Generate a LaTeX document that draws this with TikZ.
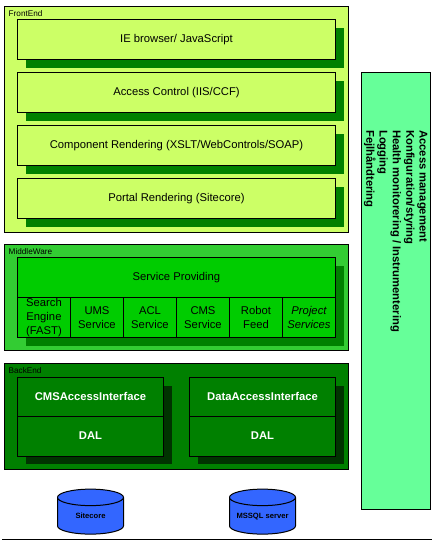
\documentclass[tikz,border=0pt]{standalone}
\usepackage{fontspec}
\setmainfont{Liberation Sans}
\usetikzlibrary{calc}
\usetikzlibrary{shapes.geometric}
\usetikzlibrary{shadows}
\definecolor{frontcol}{HTML}{CCFF66}
\definecolor{midcol}{HTML}{33CC33}
\definecolor{cellcol}{HTML}{00CC00}
\definecolor{backcol}{HTML}{008000}
\definecolor{darkcol}{HTML}{003300}
\definecolor{dbcol}{HTML}{3366FF}
\definecolor{sidecol}{HTML}{66FF99}
\newcommand{\dbtext}[1]{\makebox[30pt]{#1}}
\tikzset{
 layer/.style={draw=black,line width=1pt,anchor=north west,outer sep=0pt,inner sep=0pt},
 caption/.style={anchor=north west,inner sep=0pt,font=\fontsize{8.2}{9}\selectfont},
 cell/.style={draw=black,line width=1pt,anchor=north west,outer sep=0pt,inner sep=1pt,align=center,font=\fontsize{11.25}{14}\selectfont},
 longcell/.style={cell,minimum width=318pt,minimum height=40pt,text height=8.4pt,text depth=2pt,
  general shadow={shadow xshift=8pt,shadow yshift=-8pt,fill=#1}},
 svc/.style={cell,minimum width=53pt,minimum height=40pt,text width=51pt,
  general shadow={shadow xshift=8pt,shadow yshift=-8pt,fill=backcol}},
 iface/.style={cell,fill=backcol,text=white,minimum width=146pt,minimum height=39.5pt,text height=8pt,text depth=2.5pt,
  font=\fontsize{11.25}{14}\selectfont\bfseries,
  general shadow={shadow xshift=8pt,shadow yshift=-8pt,fill=darkcol}},
 db/.style={cylinder,shape border rotate=90,aspect=0.55,draw=black,line width=1pt,fill=dbcol,
  minimum width=66pt,minimum height=45pt,inner sep=0pt,outer sep=0pt,
  text height=6pt,text depth=2pt,font=\fontsize{7.6}{9}\selectfont\bfseries}
}
\begin{document}
\begin{tikzpicture}[x=1pt,y=-1pt]
\useasboundingbox (0,0) rectangle (435,546);
% FrontEnd
\node[layer,fill=frontcol,minimum width=344pt,minimum height=226pt] (FrontEnd) at (4.5,6) {};
\node[caption] (FrontEndCap) at (8.5,10) {FrontEnd};
\node[longcell=backcol,fill=frontcol] (Browser) at (17.5,19.5) {IE browser/ JavaScript};
\node[longcell=backcol,fill=frontcol] (Access) at (17.5,72.5) {Access Control (IIS/CCF)};
\node[longcell=backcol,fill=frontcol] (Component) at (17.5,125.5) {Component Rendering (XSLT/WebControls/SOAP)};
\node[longcell=backcol,fill=frontcol] (Portal) at (17.5,178.5) {Portal Rendering (Sitecore)};
% MiddleWare
\node[layer,fill=midcol,minimum width=344pt,minimum height=106pt] (MiddleWare) at (4.5,244.5) {};
\node[caption] (MiddleWareCap) at (8.5,248) {MiddleWare};
\node[longcell=backcol,fill=cellcol] (Providing) at (17.5,257.5) {Service Providing};
\node[svc,fill=cellcol] (Search) at (17.5,297.5) {Search\\Engine\\(FAST)};
\node[svc,fill=cellcol] (UMS) at (70.5,297.5) {UMS\\Service};
\node[svc,fill=cellcol] (ACL) at (123.5,297.5) {ACL\\Service};
\node[svc,fill=cellcol] (CMS) at (176.5,297.5) {CMS\\Service};
\node[svc,fill=cellcol] (Robot) at (229.5,297.5) {Robot\\Feed};
\node[svc,fill=cellcol,font=\fontsize{11.25}{14}\selectfont\itshape] (Project) at (282.5,297.5) {Project\\Services};
% BackEnd
\node[layer,fill=backcol,minimum width=344pt,minimum height=106pt] (BackEnd) at (4.5,363.5) {};
\node[caption] (BackEndCap) at (8.5,367) {BackEnd};
\node[iface] (CMSAccess) at (17.5,377.5) {CMSAccessInterface};
\node[iface] (CMSDal) at (17.5,416.5) {DAL};
\node[iface] (DataAccess) at (189.5,377.5) {DataAccessInterface};
\node[iface] (DataDal) at (189.5,416.5) {DAL};
% databases
\node[db] (Sitecore) at (90.5,516) {\dbtext{Sitecore}};
\node[db] (MSSQL) at (262.5,516) {\dbtext{MSSQL server}};
\coordinate (baseL) at (2,539.5);
\coordinate (baseR) at (432,539.5);
\draw[line width=1pt] (baseL) -- (baseR);
% side panel
\node[layer,fill=sidecol,minimum width=69pt,minimum height=437pt] (Side) at (361.5,72.5) {};
\node[rotate=-90,anchor=north west,align=left,inner sep=0pt,font=\fontsize{11.25}{13.3}\selectfont\bfseries] (SideText) at (427.5,130)
 {Access management\\Konfiguration/styring\\Health monitorering / Instrumentering\\Logging\\Fejlhåndtering};
\end{tikzpicture}
\end{document}
